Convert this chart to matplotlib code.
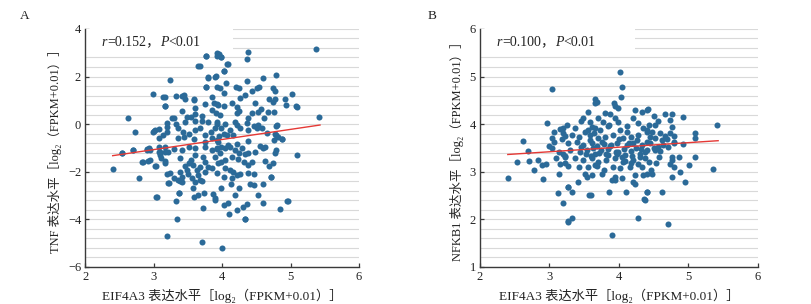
import numpy as np
import matplotlib
matplotlib.use("Agg")
import matplotlib.pyplot as plt
from matplotlib.patches import Rectangle
from matplotlib.offsetbox import TextArea, HPacker, AnchoredOffsetbox

plt.rcParams['font.family'] = ['Liberation Serif', 'Noto Sans CJK SC', 'DejaVu Serif']

# ---------------- data: panel A (EIF4A3 vs TNF) ----------------
a_x = [2.40, 2.63, 2.54, 2.72, 2.70, 2.79, 2.84, 2.90, 2.94, 2.99, 3.00, 3.04, 3.02, 3.07, 3.07, 3.09,
       3.14, 3.17, 3.20, 3.24, 3.22, 3.26, 3.33, 3.32, 3.34, 3.37, 3.38, 3.42, 3.59, 3.68, 3.70, 3.76,
       3.79, 3.77, 3.95, 3.99, 4.02, 3.91, 4.07, 4.00, 4.38, 4.37, 4.36, 4.59, 4.78, 5.37, 5.42, 5.09,
       5.02, 4.92, 4.93, 5.08, 4.88, 4.95, 4.85, 4.79, 4.79, 4.71, 4.33, 4.10,
       # zoom 6
       3.77, 3.92, 3.64, 3.80, 3.90, 3.77, 3.92, 3.16, 3.44, 3.46, 3.59, 3.85, 3.17, 3.60, 3.75, 3.88,
       3.92, 3.61, 3.85, 3.91, 3.42, 3.48, 3.54, 3.71, 3.29, 3.19, 3.32, 3.46, 3.60, 3.70, 3.80, 3.93,
       3.02, 3.20, 3.35, 3.43, 3.51, 3.60, 3.68, 3.75, 3.84, 3.90, 2.99, 3.13, 3.19, 3.36, 3.44, 3.59,
       3.75, 3.85, 3.94, 2.95, 2.93, 3.07, 3.16,
       # zoom 7
       3.93, 3.98, 4.08, 4.02, 4.06, 4.20, 4.25, 4.51, 4.54, 4.75, 3.97, 4.77, 4.43, 4.03, 4.33, 4.26,
       4.68, 4.77, 4.15, 4.48, 4.75, 5.10, 3.94, 4.02, 4.21, 4.24, 4.21, 4.57, 4.67, 4.76, 4.43, 4.53,
       3.97, 4.38, 4.61, 3.92, 4.04, 4.19, 4.22, 4.37, 4.46, 4.53, 4.80, 3.99, 4.12, 4.26, 4.38, 4.51,
       4.58, 4.65, 4.77, 4.81, 4.02, 4.07, 4.16, 3.92, 4.09, 4.21, 4.38, 4.55, 4.63, 4.76, 4.87, 3.99,
       # zoom 8
       2.53, 2.70, 2.90, 3.07, 3.16, 3.21, 3.29, 3.42, 3.51, 3.60, 3.75, 3.85, 3.92, 2.83, 2.92, 3.03,
       3.09, 3.11, 3.16, 3.16, 3.19, 3.24, 3.21, 3.29, 3.05, 3.37, 3.38, 3.45, 3.38, 3.41, 3.35, 3.41,
       3.48, 3.51, 3.55, 3.58, 3.63, 3.68, 3.56, 3.65, 3.60, 3.68, 3.58, 3.59, 3.65, 3.73, 3.72, 3.87,
       3.90, 3.60, 3.72, 3.75, 3.80, 3.85, 3.75, 3.90, 3.94,
       # zoom 9
       3.92, 3.97, 4.04, 4.11, 4.19, 4.24, 4.29, 4.33, 4.38, 4.48, 4.60, 4.79, 4.77, 3.99, 4.04, 4.14,
       4.23, 4.32, 4.38, 4.43, 4.63, 4.69, 4.75, 3.92, 4.02, 4.04, 4.12, 4.16, 4.21, 4.26, 4.38, 4.47,
       4.71, 4.14, 3.98, 4.13, 4.25, 4.41, 4.46, 4.59, 4.52, 4.19, 3.90, 4.03, 4.08, 4.30, 4.37, 4.59,
       4.21, 4.34, 4.96, 3.70, 3.50, 3.95]
a_y = [-1.89, 0.24, -1.22, -0.35, -1.09, -2.26, -1.61, -1.09, -1.53, 1.27, -0.28, -3.05, -1.75, -0.19, -0.60, -1.16,
       1.15, 0.76, -4.71, 1.85, -2.49, 0.24, 1.19, -3.25, -3.98, -2.89, -2.40, 1.18, 1.04, 2.46, -4.98, 2.86,
       1.95, 1.57, 2.93, 2.81, 2.25, 2.02, 2.51, -5.20, 3.05, 2.72, 1.81, 1.92, 2.06, 3.16, 0.31, -1.30,
       1.27, 1.04, 0.79, 0.76, -0.64, -3.22, -3.57, -0.10, -0.45, -2.21, -4.01, -3.77,
       # zoom 6
       2.88, 2.88, 2.44, 1.97, 1.99, 1.55, 1.57, 1.15, 1.22, 1.05, 1.01, 1.13, 0.76, 0.69, 0.85, 0.90,
       0.85, 0.42, 0.59, 0.45, 0.54, 0.31, 0.31, 0.35, 0.24, 0.03, -0.01, 0.07, 0.13, 0.13, 0.07, 0.10,
       -0.25, -0.11, -0.18, -0.32, -0.42, -0.25, -0.18, -0.46, -0.32, -0.18, -0.32, -0.46, -0.35, -0.60, -0.53, -0.63,
       -0.74, -0.60, -0.74, -1.09, -1.02, -0.95, -0.95,
       # zoom 7
       2.98, 2.84, 2.51, 2.25, 1.71, 1.57, 1.53, 1.50, 1.57, 1.53, 1.50, 1.41, 1.39, 1.29, 1.22, 1.11,
       1.05, 1.04, 0.90, 0.90, 0.94, 0.73, 0.80, 0.77, 0.73, 0.55, 0.45, 0.64, 0.52, 0.49, 0.45, 0.52,
       0.38, 0.24, 0.24, -0.01, -0.01, 0.07, -0.04, 0.03, -0.07, -0.04, -0.04, -0.18, -0.25, -0.18, -0.25, -0.18,
       -0.15, -0.39, -0.42, -0.53, -0.43, -0.46, -0.46, -0.67, -0.88, -0.85, -0.71, -0.91, -0.95, -0.67, -0.63, -0.95,
       # zoom 8
       -1.20, -1.09, -1.06, -1.16, -1.16, -1.16, -1.05, -1.09, -0.95, -1.02, -0.95, -1.09, -1.02, -1.58, -1.54, -1.75,
       -1.30, -1.44, -1.55, -1.65, -2.11, -2.04, -2.49, -2.28, -3.05, -2.91, -1.44, -1.75, -2.00, -2.21, -2.35, -2.42,
       -1.93, -1.65, -1.51, -1.72, -1.93, -1.79, -2.28, -2.14, -2.42, -2.35, -2.68, -3.05, -2.98, -2.91, -3.52, -2.96,
       -3.19, -1.30, -1.37, -1.58, -1.79, -1.86, -2.00, -1.37, -1.65,
       # zoom 9
       -1.05, -1.23, -1.02, -0.95, -1.09, -1.23, -1.02, -1.27, -1.23, -1.19, -0.99, -1.09, -1.23, -1.58, -1.51, -1.37,
       -1.47, -1.61, -1.72, -1.61, -1.55, -1.75, -1.65, -2.07, -2.21, -1.86, -1.93, -2.00, -2.14, -2.11, -2.07, -2.11,
       -2.21, -2.28, -2.70, -2.53, -2.67, -2.53, -2.56, -2.53, -2.98, -2.98, -3.12, -3.40, -3.33, -3.47, -3.38, -3.33,
       -3.61, -4.01, -3.22, -2.40, -2.10, -0.50]

# ---------------- data: panel B (EIF4A3 vs NFKB1) ----------------
b_x = [3.03, 2.97, 2.62, 2.69, 2.40, 2.53, 2.71, 2.83, 2.78, 2.91, 2.89, 2.95, 2.99, 3.03, 3.06, 3.03,
       3.06, 3.15, 3.19, 3.20, 3.23, 3.18, 3.10, 3.14, 3.19, 3.22, 3.15, 3.22, 3.14, 3.27, 3.13, 3.20, 3.26,
       # zoom 11
       4.02, 4.05, 3.66, 3.65, 3.68, 3.93, 4.03, 3.99, 3.94, 3.80, 3.87, 3.56, 3.58, 3.49, 3.46, 3.70,
       3.77, 3.94, 3.99, 4.23, 4.33, 4.40, 4.21, 4.28, 3.25, 3.37, 3.51, 3.56, 3.66, 3.85, 4.02, 4.11,
       4.35, 4.40, 3.32, 3.42, 3.58, 3.70, 3.80, 3.92, 4.06, 4.18, 4.28, 3.27, 3.39, 3.49, 3.61, 3.68,
       3.78, 3.87, 3.97, 4.11, 4.21, 4.33, 4.40, 3.30, 3.44, 3.54, 3.66, 3.74, 3.85, 3.99, 4.09, 4.18,
       4.30, 4.38, 3.22, 3.37, 3.49, 3.61, 3.70, 3.82, 3.94, 4.06, 4.21, 4.28, 4.38, 3.27, 3.42, 3.56,
       3.68, 3.78, 3.92, 4.02, 4.16, 4.33, 3.51, 3.61, 3.75, 3.94, 4.04, 4.23, 4.35, 3.54, 3.90, 4.21,
       4.23, 3.27, 3.41, 3.32, 3.57, 3.60, 3.86, 4.10, 3.94, 4.41, 4.36, 4.28, 3.33, 3.26, 3.90,
       # extra dense-cluster points
       3.60, 3.63, 3.72, 3.84, 3.97, 4.08, 4.14, 4.25, 3.58, 3.64, 3.76, 3.88, 4.00, 4.12, 4.26, 3.62,
       3.73, 3.86, 4.04, 4.17, 4.30, 3.45, 3.53, 3.66, 3.81, 3.96, 4.09, 4.19, 4.32,
       # zoom 12
       5.41, 5.09, 5.09, 4.92, 4.67, 4.76, 4.74, 4.42, 4.50, 4.57, 4.43, 4.52, 4.77, 4.40, 4.47, 4.59,
       4.67, 4.74, 4.79, 4.45, 4.52, 4.62, 4.70, 4.79, 4.45, 4.57, 4.64, 4.71, 4.80, 4.92, 4.50, 4.40,
       4.52, 4.59, 4.76, 4.86, 5.10, 4.77, 4.58, 4.43, 4.54, 4.74, 4.80, 5.01, 4.46, 4.40, 4.47, 4.88,
       5.36, 4.76, 4.95, 4.41, 4.62, 4.38, 4.71]
b_y = [4.73, 4.03, 3.65, 3.44, 2.86, 3.20, 3.22, 3.24, 3.03, 2.84, 3.14, 3.16, 3.54, 3.49, 3.84, 3.70,
       3.62, 3.89, 3.91, 3.82, 3.75, 3.68, 3.28, 3.42, 3.38, 3.33, 3.17, 3.19, 2.96, 2.68, 2.54, 2.35, 1.96,
       # zoom 11
       5.09, 4.79, 4.52, 4.45, 4.47, 4.45, 4.56, 4.33, 4.37, 4.23, 4.21, 4.26, 4.05, 4.12, 4.07, 4.12,
       4.05, 4.12, 4.05, 4.30, 4.26, 4.30, 4.12, 4.03, 3.98, 3.91, 3.84, 3.88, 3.91, 3.95, 3.88, 3.95,
       3.91, 3.84, 3.77, 3.73, 3.77, 3.70, 3.73, 3.77, 3.70, 3.73, 3.77, 3.60, 3.63, 3.56, 3.60, 3.53,
       3.58, 3.53, 3.60, 3.56, 3.61, 3.56, 3.63, 3.46, 3.42, 3.46, 3.38, 3.46, 3.35, 3.42, 3.35, 3.44,
       3.37, 3.42, 3.31, 3.28, 3.24, 3.28, 3.21, 3.24, 3.28, 3.21, 3.24, 3.17, 3.28, 3.12, 3.10, 3.09,
       3.12, 3.03, 3.10, 3.07, 3.09, 3.10, 2.96, 2.93, 2.96, 2.89, 2.86, 2.93, 2.93, 2.88, 2.82, 2.79,
       2.74, 2.68, 2.79, 2.58, 2.51, 2.51, 2.58, 2.58, 2.82, 2.58, 2.42, 2.03, 2.03, 1.95, 1.67,
       # extra dense-cluster points
       3.33, 3.50, 3.40, 3.48, 3.36, 3.47, 3.60, 3.49, 3.66, 3.82, 3.62, 3.55, 3.68, 3.83, 3.66, 3.93,
       3.88, 3.98, 3.31, 3.18, 3.30, 3.51, 3.36, 3.14, 3.38, 3.42, 3.23, 3.32, 3.48,
       # zoom 12
       3.99, 3.82, 3.70, 4.14, 4.21, 4.21, 4.09, 4.31, 4.17, 4.07, 3.98, 3.98, 3.93, 3.88, 3.84, 3.81,
       3.75, 3.81, 3.75, 3.73, 3.70, 3.67, 3.68, 3.63, 3.60, 3.51, 3.56, 3.51, 3.60, 3.58, 3.49, 3.46,
       3.46, 3.44, 3.31, 3.30, 3.31, 3.24, 3.31, 3.21, 3.19, 3.17, 3.10, 3.14, 3.03, 2.96, 2.95, 3.00,
       3.05, 2.89, 2.79, 2.58, 2.58, 2.40, 1.89]

# fitted lines
fit_x = [2.40, 5.43]
fit_a = [-1.33, -0.04]
fit_b = [3.36, 3.65]

x_ticks = [2, 3, 4, 5, 6]
a_ticks = [-6, -4, -2, 0, 2, 4]
b_ticks = [1, 2, 3, 4, 5, 6]

x_label = "EIF4A3 表达水平［log₂（FPKM+0.01）］"
a_label = "TNF 表达水平［log₂（FPKM+0.01）］"
b_label = "NFKB1 表达水平［log₂（FPKM+0.01）］"
a_stats = ("r", "=0.152，", "P", "<0.01")
b_stats = ("r", "=0.100，", "P", "<0.01")

# ---------------- drawing ----------------
DOT = "#2b6a98"
LINE = "#e53935"
GRID = "#d9d9d9"
SPINE = "#3a3a3a"

fig = plt.figure(figsize=(8.11, 3.04), dpi=100)
axA = fig.add_axes([0.1052, 0.1227, 0.3375, 0.782])
axB = fig.add_axes([0.5919, 0.1227, 0.3424, 0.782])


def style(ax, xs, ys, fit_y, yticks, ylabel, stats, grid_step, box_w):
    ax.scatter(xs, ys, s=19, color=DOT, linewidths=0, zorder=3)
    ax.plot(fit_x, fit_y, color=LINE, lw=1.0, zorder=4)
    ax.set_xlim(x_ticks[0], x_ticks[-1])
    ax.set_ylim(yticks[0], yticks[-1])
    ax.set_xticks(x_ticks)
    ax.set_yticks(yticks)
    ax.set_yticks(np.arange(yticks[0], yticks[-1] + 1e-9, grid_step), minor=True)
    ax.grid(which='both', axis='y', color=GRID, lw=0.8, zorder=0)
    ax.set_axisbelow(True)
    ax.tick_params(axis='y', which='minor', length=0)
    ax.tick_params(axis='both', which='major', direction='in', length=3, width=0.9,
                   colors=SPINE, labelsize=9, pad=3)
    for lab in ax.get_xticklabels() + ax.get_yticklabels():
        lab.set_color('#222222')
    for s in ('top', 'right'):
        ax.spines[s].set_visible(False)
    for s in ('left', 'bottom'):
        ax.spines[s].set_color(SPINE)
        ax.spines[s].set_linewidth(1.0)
    ax.set_xlabel(x_label, fontsize=9.5, color='#222222', labelpad=4)
    ax.set_ylabel(ylabel, fontsize=9, color='#222222', labelpad=4)
    # white box behind the statistics text
    ax.add_patch(Rectangle((0.004, 0.9), box_w, 0.1, transform=ax.transAxes,
                           facecolor='white', edgecolor='none', zorder=1))
    fam = ['Liberation Serif', 'Noto Sans CJK SC', 'DejaVu Serif']
    parts = [TextArea(stats[0], textprops=dict(style='italic', family=fam, fontsize=10, color='#222222')),
             TextArea(stats[1], textprops=dict(family=fam, fontsize=10, color='#222222')),
             TextArea(stats[2], textprops=dict(style='italic', family=fam, fontsize=10, color='#222222')),
             TextArea(stats[3], textprops=dict(family=fam, fontsize=10, color='#222222'))]
    box = HPacker(children=parts, align='baseline', pad=0, sep=0)
    anch = AnchoredOffsetbox(loc='center left', child=box, pad=0, frameon=False,
                             bbox_to_anchor=(0.06, 0.945), bbox_transform=ax.transAxes,
                             borderpad=0)
    anch.set_zorder(5)
    ax.add_artist(anch)


style(axA, a_x, a_y, fit_a, a_ticks, a_label, a_stats, 0.4, 0.535)
style(axB, b_x, b_y, fit_b, b_ticks, b_label, b_stats, 0.2, 0.555)

fig.text(25 / 811, 1 - 16 / 304, "A", fontsize=9.5, ha='center', va='center', color='#222222')
fig.text(432 / 811, 1 - 16 / 304, "B", fontsize=9.5, ha='center', va='center', color='#222222')

fig.savefig("out.png", dpi=100)
